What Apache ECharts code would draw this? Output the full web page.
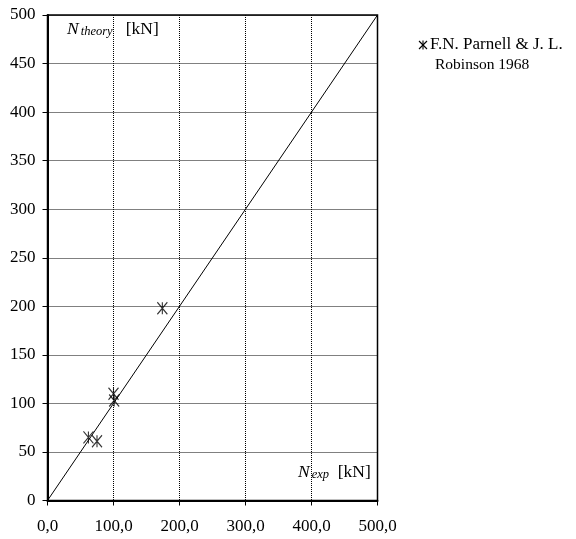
<!DOCTYPE html>
<html>
<head>
<meta charset="utf-8">
<script src="https://cdn.jsdelivr.net/npm/echarts@6/dist/echarts.min.js"></script>
<style>
  html, body { margin: 0; padding: 0; background: #fff; }
  #chart { width: 576px; height: 539px; }
</style>
</head>
<body>
<div id="chart"></div>
<script>
// Measured vs. predicted axial capacity, test series of F.N. Parnell & J. L. Robinson (1968)
var seriesLines = ['F.N. Parnell & J. L.', 'Robinson 1968'];
var seriesName = seriesLines.join('\n');
var nExp = [62, 75, 100, 101, 174];
var nTheory = [65, 61, 110, 103, 198];
// Reference line N_theory = N_exp
var refLine = [[0, 0], [500, 500]];
var xTicks = [0, 100, 200, 300, 400, 500];
var yTicks = [0, 50, 100, 150, 200, 250, 300, 350, 400, 450, 500];

var serif = '"Liberation Serif", "Times New Roman", serif';
var starPath = 'path://M0,0L10,12M10,0L0,12M5,0L5,12';

var points = nExp.map(function (x, i) { return [x, nTheory[i]]; });

var starStroke = { stroke: '#000', lineWidth: 1.1 };

var chart = echarts.init(document.getElementById('chart'), null, { renderer: 'canvas' });
chart.setOption({
  animation: false,
  backgroundColor: '#fff',
  grid: {
    left: 47.5, right: 198.5, top: 15, bottom: 38.5,
    show: true, borderColor: '#000', borderWidth: 1.5, backgroundColor: 'transparent'
  },
  xAxis: {
    type: 'value', min: xTicks[0], max: xTicks[xTicks.length - 1], interval: 100,
    axisLine: { show: true, onZero: false, lineStyle: { color: '#000', width: 2 } },
    axisTick: { show: true, length: 5, lineStyle: { color: '#000', width: 1 } },
    axisLabel: {
      color: '#000', fontFamily: serif, fontSize: 17, margin: 18,
      formatter: function (v) { return v.toFixed(1).replace('.', ','); }
    },
    splitLine: { show: true, lineStyle: { color: '#000', type: [1, 1], width: 1 } }
  },
  yAxis: {
    type: 'value', min: yTicks[0], max: yTicks[yTicks.length - 1], interval: 50,
    axisLine: { show: true, onZero: false, lineStyle: { color: '#000', width: 2 } },
    axisTick: { show: true, length: 5, lineStyle: { color: '#000', width: 1 } },
    axisLabel: { color: '#000', fontFamily: serif, fontSize: 17, margin: 12 },
    splitLine: { show: true, lineStyle: { color: '#000', type: [1, 1], width: 1 } }
  },
  series: [
    {
      type: 'line', data: refLine, symbol: 'none', silent: true, clip: false,
      lineStyle: { color: '#000', width: 1 }, z: 3
    },
    {
      name: seriesName, type: 'scatter', data: points,
      symbol: starPath, symbolSize: [10, 12],
      itemStyle: { color: 'transparent', borderColor: '#000', borderWidth: 1.2 },
      z: 4
    }
  ],
  graphic: [
    {
      type: 'text', left: 67, top: 20, z: 10,
      style: {
        text: '{n|N}{s|theory}{u|   [kN]}',
        rich: {
          n: { fontFamily: serif, fontStyle: 'italic', fontSize: 17.5, fill: '#000' },
          s: { fontFamily: serif, fontStyle: 'italic', fontSize: 12.5, fill: '#000', verticalAlign: 'bottom', padding: [6, 0, 0, 2] },
          u: { fontFamily: serif, fontSize: 17.5, fill: '#000' }
        }
      }
    },
    {
      type: 'text', left: 298, top: 463, z: 10,
      style: {
        text: '{n|N}{s|exp}{u|  [kN]}',
        rich: {
          n: { fontFamily: serif, fontStyle: 'italic', fontSize: 17.5, fill: '#000' },
          s: { fontFamily: serif, fontStyle: 'italic', fontSize: 12.5, fill: '#000', verticalAlign: 'bottom', padding: [6, 0, 0, 2] },
          u: { fontFamily: serif, fontSize: 17.5, fill: '#000' }
        }
      }
    },
    // Legend entry: star marker plus two-line caption
    { type: 'line', z: 10, shape: { x1: 419, y1: 41, x2: 427, y2: 49 }, style: starStroke },
    { type: 'line', z: 10, shape: { x1: 427, y1: 41, x2: 419, y2: 49 }, style: starStroke },
    { type: 'line', z: 10, shape: { x1: 423, y1: 40.5, x2: 423, y2: 49.5 }, style: starStroke },
    {
      type: 'text', left: 430, top: 36, z: 10,
      style: { text: seriesLines[0], fontFamily: serif, fontSize: 17, fill: '#000' }
    },
    {
      type: 'text', left: 435, top: 57, z: 10,
      style: { text: seriesLines[1], fontFamily: serif, fontSize: 15.5, fill: '#000' }
    }
  ]
});
</script>
</body>
</html>
